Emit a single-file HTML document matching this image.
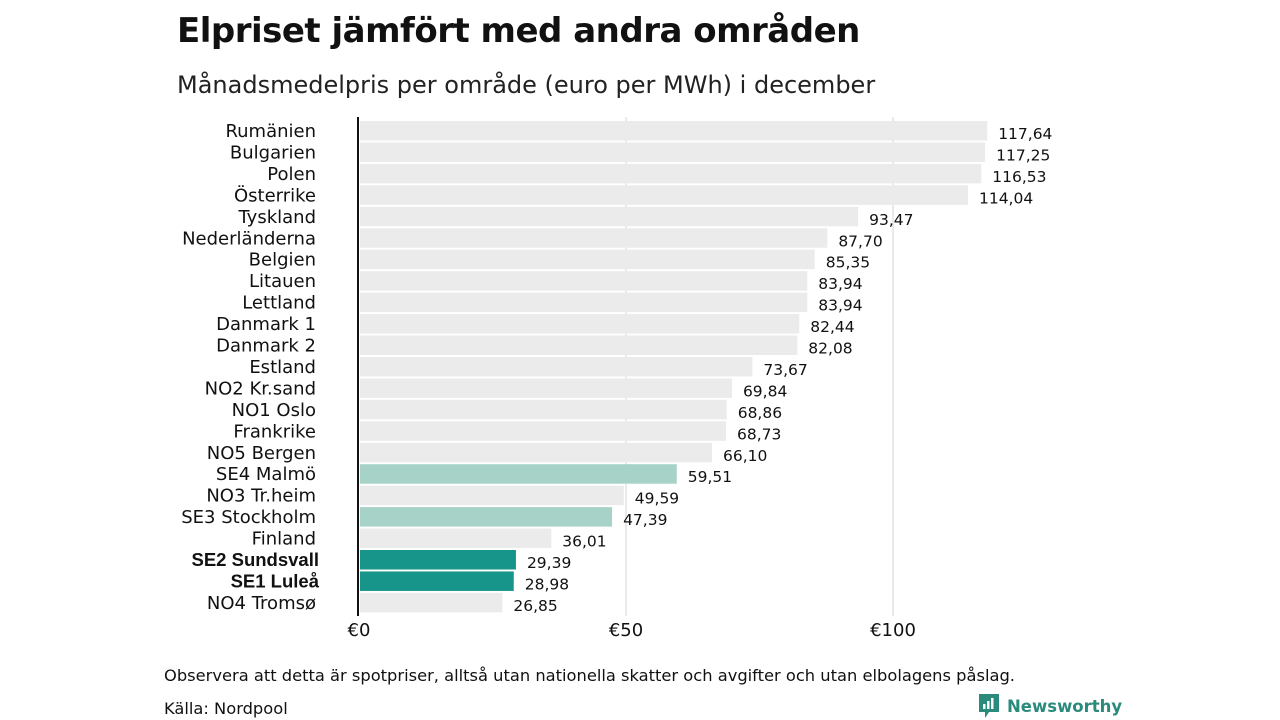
<!DOCTYPE html>
<html><head><meta charset="utf-8"><style>
body{margin:0;width:1280px;height:720px;background:#fff;font-family:"DejaVu Sans",sans-serif;overflow:hidden;position:relative}
#title{position:absolute;left:177px;top:11px;font-size:34px;font-weight:bold;color:#111;margin:0;letter-spacing:-0.5px}
#sub{position:absolute;left:177px;top:71px;font-size:24px;color:#222}
.foot{position:absolute;left:164px;font-size:16.3px;color:#111}
#logo{position:absolute;left:979px;top:694px;display:flex;align-items:center;color:#2a8a7c;font-weight:bold;font-size:16.5px}
</style></head><body>
<h1 id="title">Elpriset jämfört med andra områden</h1>
<div id="sub">Månadsmedelpris per område (euro per MWh) i december</div>
<svg id="chart" width="1280" height="720" style="position:absolute;left:0;top:0"></svg>
<div class="foot" style="top:666px">Observera att detta är spotpriser, alltså utan nationella skatter och avgifter och utan elbolagens påslag.</div>
<div class="foot" style="top:699px">Källa: Nordpool</div>
<div id="logo"><svg width="20" height="24" viewBox="0 0 20 24"><path d="M0 0H20V18H10L6 24V18H0Z" fill="#2a8a7c"/><rect x="4" y="10" width="2.5" height="5" fill="#fff"/><rect x="8" y="7" width="2.5" height="8" fill="#fff"/><rect x="12" y="4" width="2.5" height="11" fill="#fff"/></svg><span style="margin-left:8px">Newsworthy</span></div>
<script>
const categories=["Rumänien","Bulgarien","Polen","Österrike","Tyskland","Nederländerna","Belgien","Litauen","Lettland","Danmark  1","Danmark  2","Estland","NO2 Kr.sand","NO1 Oslo","Frankrike","NO5 Bergen","SE4  Malmö","NO3 Tr.heim","SE3  Stockholm","Finland","SE2 Sundsvall","SE1 Luleå","NO4 Tromsø"];
const values=[117.64,117.25,116.53,114.04,93.47,87.70,85.35,83.94,83.94,82.44,82.08,73.67,69.84,68.86,68.73,66.10,59.51,49.59,47.39,36.01,29.39,28.98,26.85];
const highlight=["none","none","none","none","none","none","none","none","none","none","none","none","none","none","none","none","light","none","light","none","strong","strong","none"];
const ticks=[0,50,100];
const tickLabels=["€0","€50","€100"];
const NS="http://www.w3.org/2000/svg";
const svg=document.getElementById('chart');
const x=v=>359+v*5.34;
const yc=i=>131+i*21.45;
function mk(t,a){const e=document.createElementNS(NS,t);for(const k in a)e.setAttribute(k,a[k]);svg.appendChild(e);return e;}
ticks.forEach((t,i)=>{
 if(t>0){const g=mk('line',{x1:x(t),x2:x(t),y1:117,y2:616,stroke:'#d4d4d4','stroke-width':1});
 
 }
 const l=mk('text',{x:x(t),y:636,'text-anchor':'middle','font-size':18,fill:'#111'});
 l.textContent=tickLabels[i];
 
 
});
const col={none:'#ebebeb',light:'#a6d2c8',strong:'#17958a'};
categories.forEach((c,i)=>{
 const r=mk('rect',{x:x(0)+1,y:yc(i)-10,width:x(values[i])-x(0)-1,height:19.5,fill:col[highlight[i]]});
 
 
 const t=mk('text',{x:316,y:yc(i)+6,'text-anchor':'end','font-size':18,fill:'#111','xml:space':'preserve'});
 if(highlight[i]==='strong'){t.setAttribute('font-weight','bold');t.setAttribute('font-size','18.5');t.setAttribute('font-family','Liberation Sans, sans-serif');t.setAttribute('x','319');}
 t.textContent=c;
 
 
 const v=mk('text',{x:x(values[i])+11,y:yc(i)+8,'font-size':15.5,fill:'#111'});
 v.textContent=values[i].toFixed(2).replace('.',',');
 
 
});
const ax=mk('line',{x1:358,x2:358,y1:117,y2:616,stroke:'#111','stroke-width':2});


</script>
</body></html>
